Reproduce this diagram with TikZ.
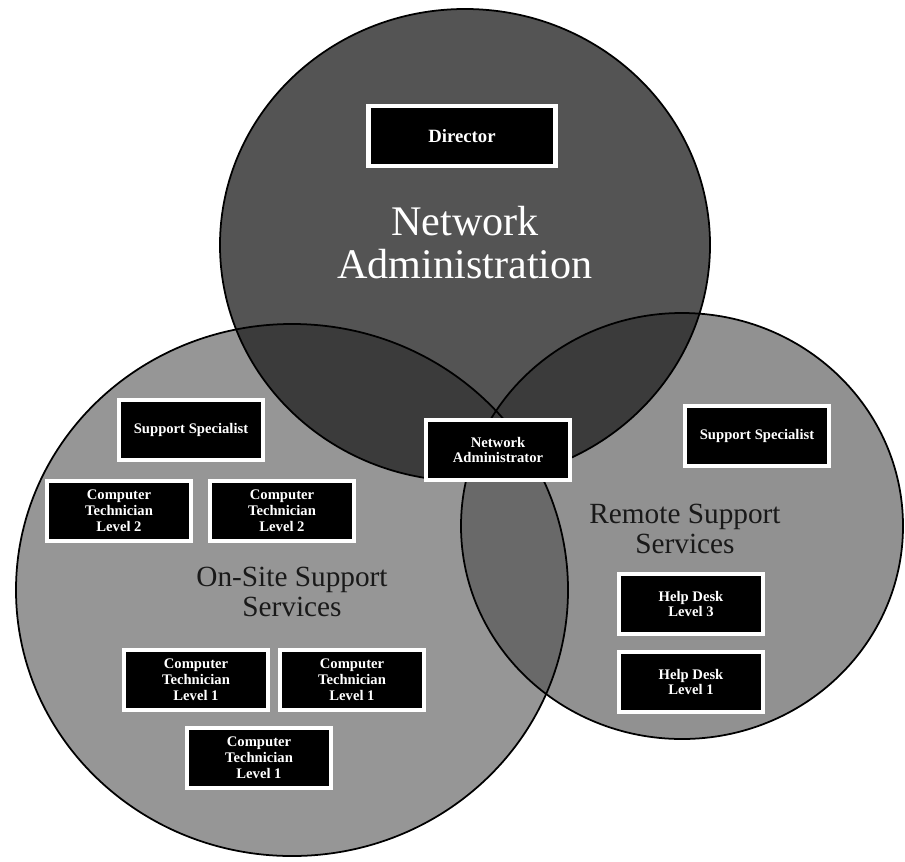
\documentclass[tikz,border=0pt]{standalone}
\usepackage{fontspec}
\setmainfont{Liberation Serif}
\usetikzlibrary{shadows}

\definecolor{topgray}{gray}{0.33}
\definecolor{sidegray}{gray}{0.59}
\definecolor{rightgray}{gray}{0.57}
\definecolor{lensdark}{gray}{0.23}
\definecolor{lensmid}{gray}{0.41}
\definecolor{titledark}{gray}{0.10}

\tikzset{
  topE/.style={insert path={(465,245) ellipse [x radius=7.35cm, y radius=7.08cm]}},
  leftE/.style={insert path={(292,590) ellipse [x radius=8.28cm, y radius=7.98cm]}},
  rightE/.style={insert path={(682,526) ellipse [x radius=6.63cm, y radius=6.39cm]}},
  rim/.style={draw=black, line width=1.5pt},
  role/.style={draw=white, fill=black, line width=4.2pt, text=white,
    minimum width=4.32cm, minimum height=1.8cm, inner sep=0pt, align=center,
    font=\bfseries\fontsize{12.5}{13.6}\selectfont,
    drop shadow={shadow xshift=0.06cm, shadow yshift=-0.06cm, opacity=0.35}},
  bigtitle/.style={align=center, text=white,
    font=\fontsize{36}{36.6}\selectfont},
  sidetitle/.style={align=center, text=titledark,
    font=\fontsize{25}{25.5}\selectfont}
}

\begin{document}
\begin{tikzpicture}[x=0.03cm, y=-0.03cm]
\useasboundingbox (0,0) rectangle (905,861);

% the two lower sets
\fill[sidegray, leftE];
\fill[rightgray, rightE];
\begin{scope}
  \clip[leftE];
  \fill[lensmid, rightE];
\end{scope}

% the upper set, darker where it overlaps the others
\fill[topgray, topE];
\begin{scope}
  \clip[topE];
  \fill[lensdark, leftE];
  \fill[lensdark, rightE];
\end{scope}

% outlines
\draw[rim, leftE];
\draw[rim, rightE];
\draw[rim, topE];

% set titles
\node[bigtitle] (natitle) at (465,243) {Network\\Administration};
\node[sidetitle] (ontitle) at (292,592) {On-Site Support\\Services};
\node[sidetitle] (rmtitle) at (685,529) {Remote Support\\Services};

% roles
\node[role, minimum width=5.61cm, font=\bfseries\fontsize{16}{17}\selectfont] (director) at (462,136) {Director};
\node[role] (netadmin) at (498,450) {Network\\Administrator};

\node[role] (osspec) at (191,430) {Support Specialist};
\node[role] (ct2a) at (119,511) {Computer\\Technician\\Level 2};
\node[role] (ct2b) at (282,511) {Computer\\Technician\\Level 2};
\node[role] (ct1a) at (196,680) {Computer\\Technician\\Level 1};
\node[role] (ct1b) at (352,680) {Computer\\Technician\\Level 1};
\node[role] (ct1c) at (259,758) {Computer\\Technician\\Level 1};

\node[role] (rmspec) at (757,436) {Support Specialist};
\node[role] (hd3) at (691,604) {Help Desk\\Level 3};
\node[role] (hd1) at (691,682) {Help Desk\\Level 1};
\end{tikzpicture}
\end{document}
